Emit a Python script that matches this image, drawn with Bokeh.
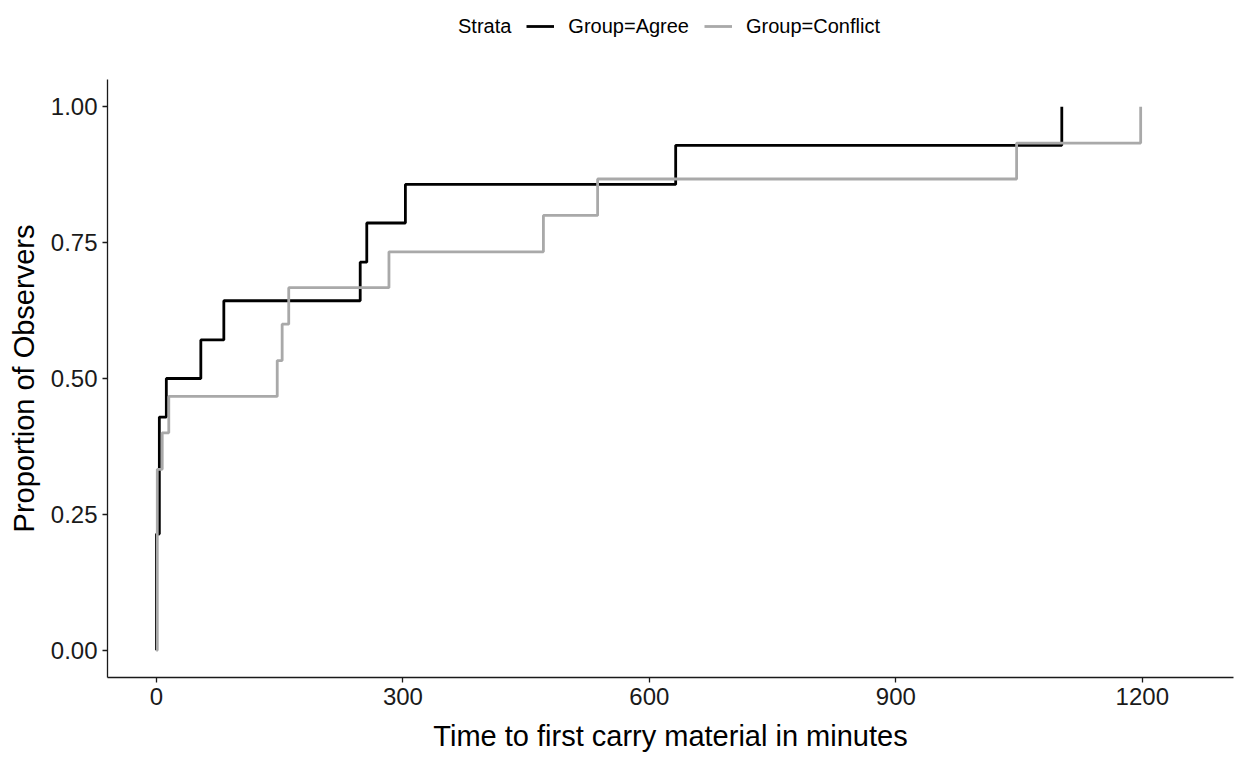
import numpy as np
from bokeh.plotting import figure
from bokeh.layouts import column
from bokeh.models import Range1d, FixedTicker, NumeralTickFormatter, Legend, LegendItem
from bokeh.embed import file_html
from bokeh.resources import INLINE

# Data
agree_time = [0, 0, 3.5, 12, 54, 82, 248, 256, 303, 632, 1102]
agree_prop = [0, 0.214, 0.429, 0.500, 0.571, 0.643, 0.714, 0.786, 0.857, 0.929, 1.000]

conflict_time = [0, 1, 7, 15, 147, 153, 161, 283, 471, 537, 1047, 1198]
conflict_prop = [0, 0.333, 0.400, 0.467, 0.533, 0.600, 0.667, 0.733, 0.800, 0.867, 0.933, 1.000]

x_ticks = [0, 300, 600, 900, 1200]
y_ticks = [0, 0.25, 0.5, 0.75, 1.0]

legend_title = "Strata"
group_labels = ["Group=Agree", "Group=Conflict"]
group_colors = ["#000000", "#A9A9A9"]

FONT = "Liberation Sans"
LW = 2.8

# ---- main plot ----
p = figure(width=1235, height=709, output_backend="svg", toolbar_location=None,
           x_range=Range1d(-59.6, 1311), y_range=Range1d(-0.05, 1.05),
           min_border_left=107, min_border_right=2, min_border_top=27, min_border_bottom=84)

p.outline_line_color = None
p.xgrid.visible = False
p.ygrid.visible = False

p.step(agree_time, agree_prop, mode="after", line_color=group_colors[0], line_width=LW)
p.step(conflict_time, conflict_prop, mode="after", line_color=group_colors[1], line_width=LW)

for ax in (p.xaxis[0], p.yaxis[0]):
    ax.axis_line_color = "#1a1a1a"
    ax.axis_line_width = 1.3
    ax.major_tick_line_color = "#1a1a1a"
    ax.major_tick_line_width = 1.3
    ax.major_tick_out = 5
    ax.major_tick_in = 0
    ax.minor_tick_line_color = None
    ax.major_label_text_font = FONT
    ax.major_label_text_font_size = "24px"
    ax.major_label_text_color = "#1a1a1a"
    ax.axis_label_text_font = FONT
    ax.axis_label_text_font_size = "29px"
    ax.axis_label_text_font_style = "normal"
    ax.axis_label_text_color = "#000000"

p.xaxis.ticker = FixedTicker(ticks=x_ticks)
p.yaxis.ticker = FixedTicker(ticks=y_ticks)
p.yaxis.formatter = NumeralTickFormatter(format="0.00")
p.xaxis.axis_label = "Time to first carry material in minutes"
p.yaxis.axis_label = "Proportion of Observers"
p.xaxis.major_label_standoff = 5
p.yaxis.major_label_standoff = 5
p.xaxis.axis_label_standoff = 12
p.yaxis.axis_label_standoff = 8

# ---- legend strip on top (proxy renderers only carry the line styles) ----
lf = figure(width=1235, height=52, output_backend="svg", toolbar_location=None,
            x_range=Range1d(0, 1), y_range=Range1d(0, 1),
            x_axis_type=None, y_axis_type=None,
            min_border_left=107, min_border_right=2, min_border_top=0, min_border_bottom=0)
lf.outline_line_color = None
lf.xgrid.visible = False
lf.ygrid.visible = False
proxies = [lf.line(x=[np.nan], y=[np.nan], line_color=c, line_width=LW) for c in group_colors]

items = [LegendItem(label=legend_title, renderers=[])] + \
        [LegendItem(label=lab, renderers=[r]) for lab, r in zip(group_labels, proxies)]
legend = Legend(items=items, orientation="horizontal", location=(309, 14),
                label_text_font=FONT, label_text_font_size="20px", label_text_color="#000000",
                glyph_width=28, glyph_height=24, label_height=24, label_standoff=14, spacing=15,
                padding=0, margin=0, border_line_color=None, background_fill_alpha=0)
lf.add_layout(legend, "center")

layout = column(lf, p, spacing=0)
open("out.html", "w").write(file_html(layout, INLINE))
